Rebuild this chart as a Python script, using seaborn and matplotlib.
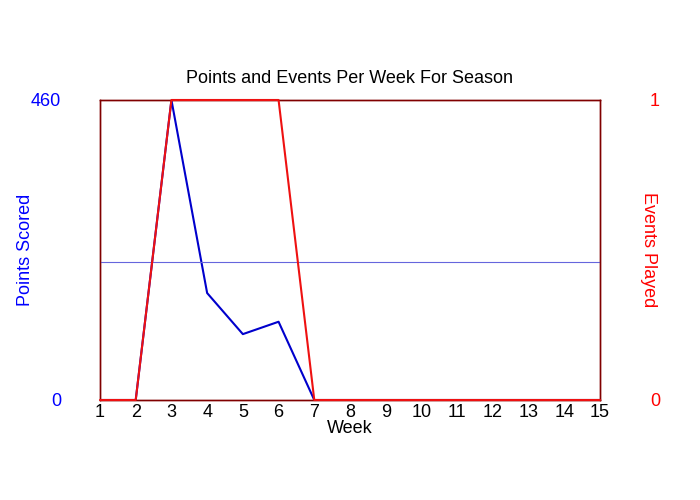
import matplotlib
matplotlib.use("Agg")
import matplotlib.pyplot as plt
import seaborn as sns
import pandas as pd

weeks = list(range(1, 16))
points = [0, 0, 460, 164, 101, 120, 0, 0, 0, 0, 0, 0, 0, 0, 0]
events = [0, 0, 1, 1, 1, 1, 0, 0, 0, 0, 0, 0, 0, 0, 0]
ref_line = 212

df = pd.DataFrame({"Week": weeks, "Points": points, "Events": events})
sns.set_style("white")
plt.rcParams['font.family'] = ['Liberation Sans', 'DejaVu Sans']
plt.rcParams['text.color'] = 'black'
plt.rcParams['axes.labelcolor'] = 'black'
plt.rcParams['xtick.color'] = 'black'

fig = plt.figure(figsize=(7, 5), dpi=100)
ax = fig.add_axes([100/700, 100/500, 500/700, 300/500])
sns.lineplot(data=df, x="Week", y="Points", ax=ax, color="#0000cc", linewidth=1.5)
ax.axhline(ref_line, color="#6666dd", linewidth=0.8)
ax.set_xlim(1, 15)
ax.set_ylim(0, 460)
ax.set_yticks([0, 460])
ax.set_xticks(weeks)
ax.tick_params(axis="y", colors="blue", labelsize=13, length=0, pad=28)
ax.tick_params(axis="x", labelsize=13, length=0, pad=3)
ax.set_ylabel("Points Scored", color="blue", fontsize=13, labelpad=-2)
ax.set_xlabel("Week", fontsize=13, labelpad=-1)
ax.set_title("Points and Events Per Week For Season", fontsize=13, pad=12, color="black")

ax2 = ax.twinx()
sns.lineplot(data=df, x="Week", y="Events", ax=ax2, color="#ee1111", linewidth=1.5)
for ln in ax2.lines:
    ln.set_clip_on(False)
    ln.set_zorder(5)
ax2.set_ylim(0, 1)
ax2.set_yticks([0, 1])
ax2.tick_params(axis="y", colors="red", labelsize=13, length=0, pad=36)
ax2.set_ylabel("Events Played", color="red", fontsize=13, rotation=270, labelpad=-2)
for a in (ax, ax2):
    for s in a.spines.values():
        s.set_color("#800000")
        s.set_linewidth(1)
        s.set_zorder(1)
fig.savefig("out.png", dpi=100)
